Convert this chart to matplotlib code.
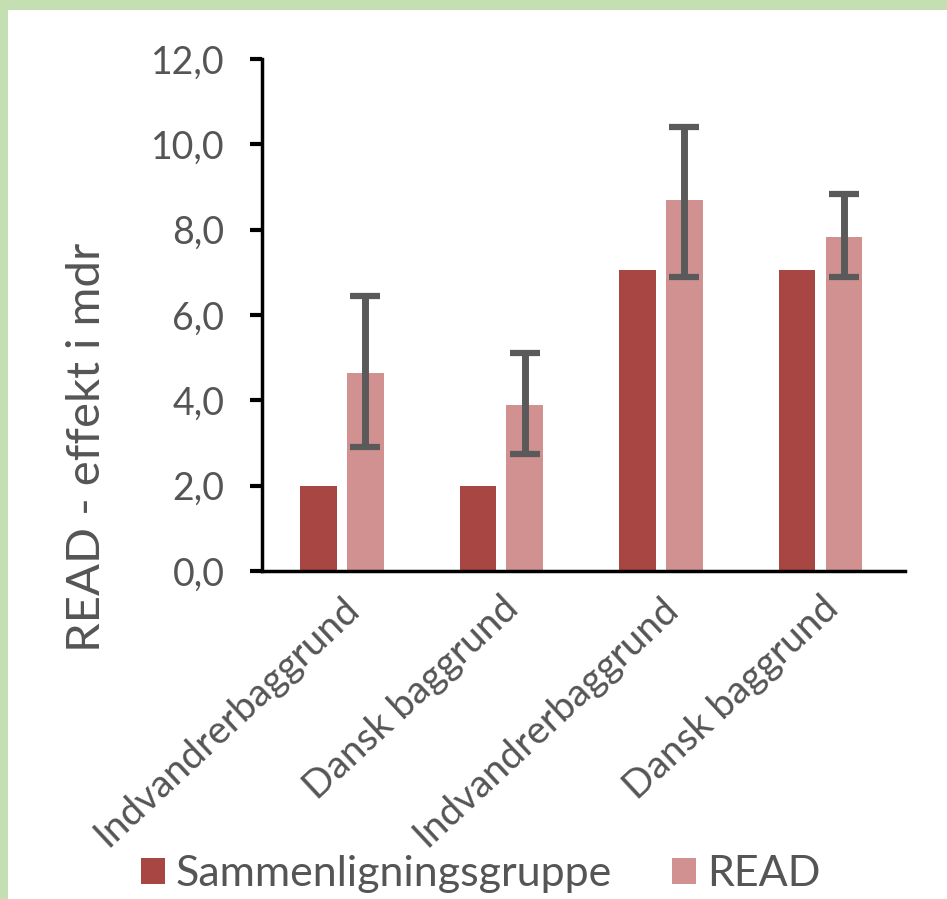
import matplotlib.pyplot as plt
import numpy as np
from matplotlib.patches import Rectangle

# Data
categories = ["Indvandrerbaggrund", "Dansk baggrund", "Indvandrerbaggrund", "Dansk baggrund"]
sammenligning = [2.0, 2.0, 7.05, 7.05]
read_values = [4.65, 3.9, 8.7, 7.82]
read_err_low = [2.9, 2.75, 6.88, 6.88]
read_err_high = [6.45, 5.1, 10.4, 8.83]
yticks = [0, 2, 4, 6, 8, 10, 12]

dark_red = "#a84643"
light_red = "#d29191"
text_gray = "#555555"
err_gray = "#5a5a5a"
border_green = "#c4e0b2"

plt.rcParams['font.family'] = ['Lato', 'DejaVu Sans']

fig = plt.figure(figsize=(9.47, 8.99), dpi=100)
fig.patch.set_facecolor("white")
# green frame on top and left edge
fig.patches.append(Rectangle((0, 1 - 10 / 899), 1, 10 / 899, transform=fig.transFigure,
                             facecolor=border_green, edgecolor="none", zorder=0))
fig.patches.append(Rectangle((0, 0), 8 / 947, 1, transform=fig.transFigure,
                             facecolor=border_green, edgecolor="none", zorder=0))

ax = fig.add_axes([262 / 947, 1 - 571 / 899, (905 - 262) / 947, (571 - 59) / 899])

x = np.arange(len(categories))
w = 0.23
off = 0.147
ax.bar(x - off, sammenligning, width=w, color=dark_red, label="Sammenligningsgruppe", zorder=2)
ax.bar(x + off, read_values, width=w, color=light_red, label="READ", zorder=2)

lower = np.array(read_values) - np.array(read_err_low)
upper = np.array(read_err_high) - np.array(read_values)
ax.errorbar(x + off, read_values, yerr=[lower, upper], fmt="none", ecolor=err_gray,
            elinewidth=5, capsize=11, capthick=4.5, zorder=3)

ax.set_xlim(-0.5, 3.53)
ax.set_ylim(0, 12)
ax.set_yticks(yticks)
ax.set_yticklabels([f"{v:.1f}".replace(".", ",") for v in yticks], fontsize=27, color=text_gray)
ax.set_xticks(x)
ax.set_xticklabels(categories, rotation=43, ha="right", rotation_mode="anchor",
                   fontsize=28, color=text_gray)
ax.tick_params(axis="x", length=0, pad=14)
ax.tick_params(axis="y", length=9, width=3, direction="out", pad=18)

for s in ["top", "right"]:
    ax.spines[s].set_visible(False)
ax.spines["left"].set_linewidth(2.5)
ax.spines["bottom"].set_linewidth(2.5)

ax.set_ylabel("READ - effekt i mdr", fontsize=34, color=text_gray)
ax.yaxis.set_label_coords(-0.24, 0.242)

fig.legend(loc="center left", bbox_to_anchor=(124 / 947, 1 - 874 / 899), ncol=2, frameon=False,
           fontsize=31, labelcolor=text_gray, handlelength=0.55, handleheight=0.55,
           handletextpad=0.25, columnspacing=1.4, borderaxespad=0)

plt.savefig("out.png", dpi=100)
